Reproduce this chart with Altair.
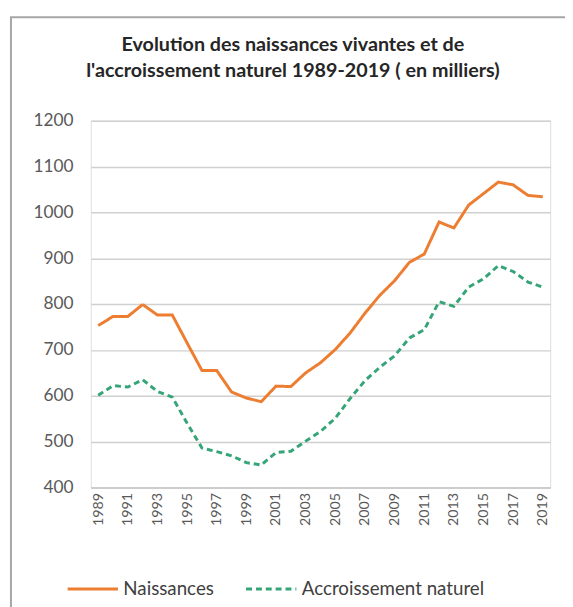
import altair as alt
import pandas as pd

years = [str(y) for y in range(1989, 2020)]
naissances = [753, 773, 773, 799, 776, 776, 715, 655, 655, 608, 595, 587,
              621, 620, 650, 672, 701, 737, 780, 819, 851, 891, 909, 979,
              966, 1016, 1041, 1066, 1060, 1037, 1034]
accroissement = [601, 622, 619, 635, 609, 597, 540, 486, 478, 469, 454, 449,
                 476, 479, 501, 522, 551, 594, 633, 662, 687, 726, 744, 805,
                 795, 837, 855, 884, 871, 848, 837]
series = ["Naissances", "Accroissement naturel"]
colors = ["#ED7D31", "#35A577"]
dashes = [[1, 0], [6, 4]]
y_ticks = [400, 500, 600, 700, 800, 900, 1000, 1100, 1200]
x_labels = [str(y) for y in range(1989, 2020, 2)]

df = pd.concat([
    pd.DataFrame({"Année": years, "Valeur": naissances, "Série": series[0]}),
    pd.DataFrame({"Année": years, "Valeur": accroissement, "Série": series[1]}),
])

FONT = "Lato"

frame = alt.Chart(pd.DataFrame({"a": [0]})).mark_rect(
    fill=None, stroke="#a6a6a6", strokeWidth=2, clip=False
).encode(
    x=alt.value(-81), x2=alt.value(500), y=alt.value(-105), y2=alt.value(500)
)

lines = alt.Chart(df).mark_line(strokeWidth=3).encode(
    x=alt.X("Année:O", title=None, sort=years,
            scale=alt.Scale(type="point", padding=0.5),
            axis=alt.Axis(values=x_labels, labelAngle=270, labelPadding=5,
                          ticks=False, domainColor="#c8c8c8", domainWidth=1.5,
                          labelColor="#595959", labelFontSize=14.5, labelFont=FONT,
                          grid=False)),
    y=alt.Y("Valeur:Q", title=None,
            scale=alt.Scale(domain=[400, 1200], nice=False, zero=False),
            axis=alt.Axis(values=y_ticks, ticks=False, domain=False, format="d",
                          labelPadding=18, labelColor="#595959", labelFontSize=17.5,
                          labelFont=FONT, gridColor="#d0d0d0", gridWidth=1.5)),
    color=alt.Color("Série:N", sort=series,
                    scale=alt.Scale(domain=series, range=colors),
                    legend=alt.Legend(title=None, orient="none", legendX=-25, legendY=448,
                                      direction="horizontal", symbolType="stroke",
                                      symbolSize=2600, symbolStrokeWidth=3,
                                      labelFontSize=19, labelFont=FONT, labelLimit=400,
                                      labelColor="#404040", columnPadding=26,
                                      labelOffset=4)),
    strokeDash=alt.StrokeDash("Série:N", sort=series,
                              scale=alt.Scale(domain=series, range=dashes),
                              legend=None),
)

chart = alt.layer(frame, lines).properties(
    width=466, height=372,
    title=alt.TitleParams(
        text=["Evolution des naissances vivantes et de",
              "l'accroissement naturel 1989-2019 ( en milliers)"],
        font=FONT, fontSize=20, fontWeight="bold", color="#262626",
        anchor="middle", dx=-28, offset=-66, lineHeight=27),
    autosize=alt.AutoSizeParams(type="none"),
    padding={"left": 84, "top": 110, "right": 15, "bottom": 117},
).configure_view(stroke=None).configure(background="white")

chart.save("out.html", embed_options={"renderer": "svg", "actions": False})
